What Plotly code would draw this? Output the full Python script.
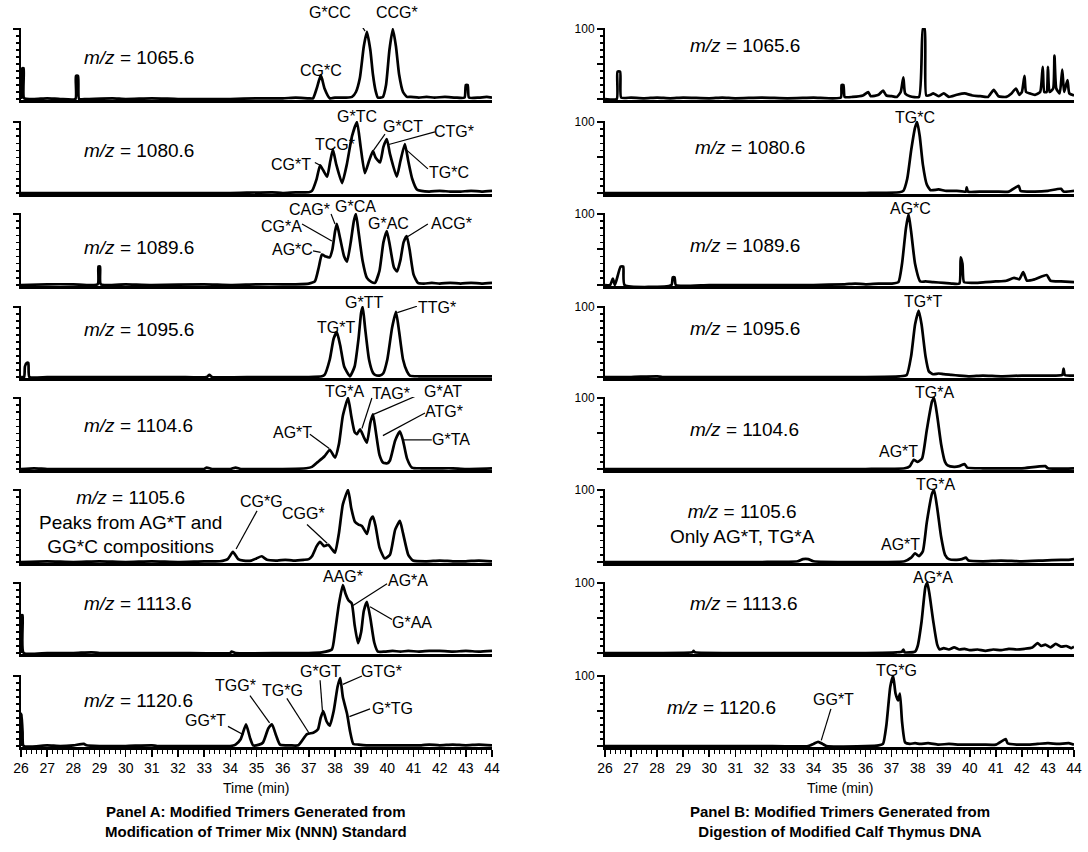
import plotly.graph_objects as go

W, H = 1088, 852

# ---------------- Panel A (trimer mix standard) : time (min) / relative intensity ----------------
a1065_time = [26.0, 26.01, 26.02, 26.03, 26.05, 26.1, 26.12, 26.5, 27.0, 27.5, 28.08, 28.1, 28.18, 28.22, 28.5, 29.5, 30.0, 31.0, 32.0, 33.0, 34.0, 35.0, 36.0, 36.5, 37.0,
              37.16, 37.3, 37.46, 37.6, 37.8, 38.0, 38.4, 38.65, 38.8, 38.95, 39.1, 39.22, 39.35, 39.45, 39.55, 39.64, 39.83, 39.95, 40.08, 40.21, 40.33, 40.45,
              40.6, 40.75, 40.9, 41.2, 41.5, 41.8, 42.2, 42.6, 42.95, 43.0, 43.07, 43.12, 43.5, 43.8, 44.0]
a1065_int = [0, 20, 20, 2, 44, 44, 1, 0, 1, 0, 0, 33, 33, 0, 0, 1, 0, 1, 0, 0, 0, 1, 1, 2, 1,
             1, 15, 34, 15, 1, 2, 2, 3, 10, 30, 75, 96, 70, 35, 12, 2, 3, 20, 70, 100, 75, 35,
             10, 3, 3, 2, 3, 2, 3, 2, 2, 20, 20, 2, 2, 3, 2]

a1080_time = [26.0, 28.0, 30.0, 32.0, 34.0, 35.6, 36.0, 36.5, 37.0, 37.12, 37.3, 37.43, 37.55, 37.7, 37.82, 37.92, 38.05, 38.27, 38.45, 38.65, 38.84, 38.98,
              39.14, 39.3, 39.45, 39.55, 39.72, 39.85, 39.98, 40.1, 40.36, 40.5, 40.67, 40.8, 40.95, 41.13, 41.3, 41.6, 42.0, 42.4, 42.8, 43.2, 43.6, 44.0]
a1080_int = [0, 0, 0, 0, 0, 1, 0, 1, 1, 3, 20, 39, 32, 23, 45, 61, 40, 14, 40, 80, 100, 65,
             28, 45, 59, 50, 43, 65, 76, 55, 23, 45, 69, 45, 20, 5, 3, 2, 3, 2, 2, 3, 2, 3]

a1089_time = [26.0, 27.0, 28.0, 28.93, 28.96, 29.02, 29.05, 30.0, 31.0, 33.0, 34.0, 35.0, 36.0, 36.5, 37.0, 37.23, 37.38, 37.5, 37.65, 37.8, 37.9, 38.0,
              38.07, 38.2, 38.35, 38.46, 38.6, 38.72, 38.8, 38.9, 39.05, 39.22, 39.4, 39.53, 39.7, 39.85, 39.98, 40.1, 40.25, 40.37, 40.5, 40.62,
              40.74, 40.85, 41.0, 41.17, 41.4, 41.7, 42.0, 42.4, 42.8, 43.2, 43.6, 44.0]
a1089_int = [0, 1, 1, 1, 26, 26, 1, 1, 0, 1, 0, 1, 1, 1, 2, 5, 25, 43, 40, 39, 50, 75,
             86, 65, 40, 33, 60, 90, 100, 75, 35, 10, 4, 3, 20, 60, 76, 55, 25, 19, 35, 60,
             69, 50, 15, 3, 2, 3, 2, 3, 2, 3, 2, 3]

a1095_time = [26.0, 26.12, 26.15, 26.22, 26.28, 26.32, 27.0, 28.0, 30.0, 32.0, 33.1, 33.2, 33.3, 35.0, 36.0, 37.0, 37.5, 37.6, 37.8, 37.95, 38.07, 38.2,
              38.35, 38.57, 38.75, 38.9, 39.0, 39.06, 39.15, 39.3, 39.45, 39.53, 39.7, 39.84, 40.0, 40.18, 40.33, 40.45, 40.6, 40.75, 40.86,
              41.2, 41.6, 42.0, 42.8, 43.5, 44.0]
a1095_int = [0, 0, 15, 20, 20, 0, 0, 0, 0, 0, 0, 3, 0, 0, 0, 0, 1, 3, 25, 55, 64, 45,
             15, 1, 15, 55, 92, 100, 70, 25, 6, 3, 2, 5, 25, 70, 93, 65, 25, 8, 2,
             1, 1, 1, 1, 1, 1]

a1104_time = [26.0, 26.5, 27.0, 28.0, 30.0, 32.0, 33.0, 33.1, 33.3, 34.0, 34.2, 34.4, 35.0, 36.0, 36.9, 37.12, 37.35, 37.6, 37.8, 38.0, 38.15, 38.3,
              38.5, 38.62, 38.75, 38.84, 38.96, 39.1, 39.22, 39.35, 39.45, 39.55, 39.7, 39.84, 40.0, 40.1, 40.3, 40.48, 40.6, 40.75, 40.94,
              41.3, 42.0, 42.5, 43.0, 44.0]
a1104_int = [0, 1, 0, 0, 0, 0, 0, 2, 0, 0, 2, 0, 0, 0, 1, 3, 10, 18, 27, 16, 35, 75,
             100, 75, 52, 49, 56, 45, 37, 65, 77, 55, 20, 9, 8, 12, 40, 53, 40, 15, 2,
             1, 1, 1, 0, 1]

a1105_time = [26.0, 27.0, 28.0, 29.0, 30.0, 31.0, 32.0, 33.0, 33.6, 33.9, 34.1, 34.3, 34.5, 34.8, 35.0, 35.2, 35.4, 35.8, 36.1, 36.4, 36.8, 37.0,
              37.12, 37.3, 37.43, 37.58, 37.74, 37.88, 38.0, 38.15, 38.3, 38.5, 38.62, 38.76, 38.9, 39.03, 39.22, 39.35, 39.45, 39.55, 39.7,
              39.9, 40.1, 40.3, 40.48, 40.6, 40.8, 40.98, 41.5, 42.0, 42.5, 43.0, 43.5, 44.0]
a1105_int = [0, 1, 0, 1, 0, 1, 0, 1, 1, 4, 14, 4, 2, 2, 5, 8, 3, 2, 3, 2, 3, 4,
             8, 22, 28, 22, 24, 18, 13, 40, 80, 100, 75, 56, 52, 50, 39, 58, 63, 50, 20,
             5, 10, 45, 57, 40, 10, 2, 1, 2, 1, 1, 2, 1]

a1113_time = [26.0, 26.02, 26.06, 26.1, 27.0, 28.0, 28.7, 29.0, 30.0, 32.0, 34.0, 34.05, 34.2, 36.0, 37.0, 37.5, 37.88, 38.0, 38.15, 38.3, 38.4, 38.52,
              38.64, 38.75, 38.88, 39.0, 39.1, 39.22, 39.35, 39.5, 39.64, 39.9, 40.2, 40.5, 40.8, 41.2, 41.6, 42.0, 42.5, 43.0, 43.5, 44.0]
a1113_int = [0, 54, 54, 0, 0, 0, 1, 0, 0, 0, 0, 2, 0, 0, 0, 1, 5, 30, 70, 97, 85, 75,
             71, 40, 14, 30, 60, 73, 50, 15, 2, 2, 3, 2, 3, 2, 3, 3, 2, 3, 2, 3]

a1120_time = [26.0, 26.02, 26.06, 26.1, 27.0, 27.5, 28.0, 28.4, 28.5, 29.0, 30.0, 31.0, 31.2, 32.0, 33.0, 34.0, 34.2, 34.4, 34.6, 34.75, 34.87, 35.1,
              35.25, 35.45, 35.59, 35.75, 35.9, 36.3, 36.6, 36.93, 37.17, 37.35, 37.45, 37.55, 37.68, 37.8, 37.95, 38.1, 38.2, 38.3, 38.46,
              38.58, 38.7, 38.9, 39.2, 39.6, 40.0, 40.6, 41.3, 41.6, 42.0, 42.5, 43.0, 43.5, 44.0]
a1120_int = [0, 46, 20, 0, 1, 0, 1, 3, 1, 0, 0, 1, 0, 0, 0, 0, 2, 10, 31, 12, 1, 2,
             5, 25, 31, 15, 2, 1, 1, 17, 19, 24, 40, 50, 35, 29, 50, 85, 97, 70, 46,
             20, 3, 2, 1, 1, 1, 1, 1, 2, 1, 2, 1, 2, 1]

# ---------------- Panel B (calf thymus DNA digest) ----------------
b1065_time = [26.0, 26.45, 26.48, 26.58, 26.62, 27.0, 27.5, 28.0, 28.5, 29.0, 30.0, 30.5, 31.0, 32.0, 33.0, 34.0, 35.05, 35.08, 35.15, 35.2, 35.5,
              35.9, 36.1, 36.2, 36.5, 36.67, 36.8, 37.0, 37.2, 37.35, 37.45, 37.52, 37.7, 38.05, 38.2, 38.27, 38.33, 38.5, 38.6, 38.8, 39.0,
              39.2, 39.5, 39.8, 40.1, 40.4, 40.7, 40.92, 41.1, 41.4, 41.6, 41.77, 41.9, 42.0, 42.1, 42.16, 42.3, 42.5, 42.7, 42.8, 42.86,
              42.95, 43.0, 43.06, 43.2, 43.25, 43.32, 43.45, 43.55, 43.62, 43.75, 43.82, 44.0]
b1065_int = [0, 0, 39, 39, 2, 2, 1, 2, 1, 2, 1, 2, 1, 2, 1, 2, 2, 20, 20, 3, 3,
             5, 10, 4, 6, 12, 5, 4, 3, 10, 31, 8, 4, 3, 100, 100, 5, 6, 8, 4, 8,
             3, 6, 8, 5, 4, 3, 13, 4, 3, 8, 15, 6, 10, 33, 10, 8, 6, 10, 46, 10,
             10, 46, 10, 15, 62, 15, 8, 42, 10, 27, 8, 5]

b1080_time = [26.0, 28.0, 30.0, 32.0, 34.0, 36.0, 37.3, 37.45, 37.6, 37.75, 37.9, 37.98, 38.08, 38.2, 38.35, 38.5, 38.8, 39.1, 39.5, 39.85, 39.88,
              39.93, 40.5, 41.0, 41.5, 41.88, 41.95, 42.5, 43.0, 43.5, 43.6, 44.0]
b1080_int = [0, 0, 0, 0, 0, 0, 1, 3, 20, 60, 92, 100, 80, 40, 12, 4, 5, 3, 3, 2, 8,
             2, 2, 2, 2, 10, 3, 2, 3, 6, 2, 3]

b1089_time = [26.0, 26.2, 26.3, 26.38, 26.6, 26.7, 26.75, 28.55, 28.6, 28.67, 28.72, 30.0, 32.0, 34.0, 35.2, 35.6, 36.0, 36.5, 37.0, 37.26, 37.4,
              37.55, 37.65, 37.75, 37.9, 38.1, 38.3, 38.6, 39.0, 39.3, 39.6, 39.65, 39.72, 39.78, 40.2, 40.6, 41.0, 41.4, 41.7, 41.9, 42.05,
              42.2, 42.5, 42.95, 43.1, 43.5, 44.0]
b1089_int = [0, 0, 9, 0, 26, 26, 0, 0, 11, 11, 0, 0, 0, 0, 1, 2, 1, 2, 2, 4, 30,
             80, 100, 75, 30, 5, 5, 4, 3, 2, 2, 39, 30, 4, 3, 4, 5, 6, 10, 8, 18,
             6, 8, 14, 6, 5, 4]

b1095_time = [26.0, 27.0, 28.0, 28.2, 30.0, 32.0, 34.0, 36.0, 37.3, 37.58, 37.75, 37.9, 38.04, 38.15, 38.3, 38.43, 38.6, 38.8, 39.0, 39.3, 39.6,
              40.0, 40.5, 41.2, 42.0, 42.8, 43.55, 43.6, 43.65, 44.0]
b1095_int = [0, 0, 1, 0, 0, 0, 0, 0, 1, 3, 30, 75, 95, 75, 30, 8, 4, 5, 4, 3, 2,
             1, 2, 1, 2, 2, 3, 12, 3, 2]

b1104_time = [26.0, 28.0, 30.0, 32.0, 34.0, 36.0, 37.5, 37.7, 37.85, 38.0, 38.17, 38.35, 38.55, 38.63, 38.75, 38.9, 39.05, 39.15, 39.4, 39.6,
              39.8, 39.9, 40.5, 41.0, 42.0, 42.9, 43.0, 44.0]
b1104_int = [0, 0, 0, 0, 0, 0, 1, 4, 13, 10, 15, 55, 95, 100, 75, 35, 10, 5, 3, 4,
             7, 2, 1, 1, 1, 4, 1, 1]

b1105_time = [26.0, 28.0, 30.0, 32.0, 33.4, 33.6, 33.8, 34.0, 36.0, 37.5, 37.75, 37.9, 38.05, 38.2, 38.35, 38.55, 38.63, 38.75, 38.9, 39.05,
              39.2, 39.5, 39.7, 39.85, 39.95, 40.5, 41.2, 42.0, 42.8, 43.5, 43.8, 44.0]
b1105_int = [0, 0, 0, 0, 1, 4, 4, 1, 0, 1, 6, 12, 8, 15, 55, 95, 100, 75, 35, 10,
             4, 3, 4, 6, 2, 1, 2, 1, 2, 3, 3, 4]

b1113_time = [26.0, 28.0, 29.35, 29.4, 29.45, 32.0, 34.0, 36.0, 37.2, 37.4, 37.45, 37.5, 37.9, 38.0, 38.15, 38.3, 38.37, 38.45, 38.6, 38.75,
              38.85, 39.0, 39.2, 39.4, 39.6, 39.8, 40.0, 40.3, 40.6, 40.9, 41.2, 41.5, 41.8, 42.1, 42.4, 42.6, 42.75, 42.9, 43.1, 43.3,
              43.5, 43.7, 43.9, 44.0]
b1113_int = [0, 0, 1, 3, 1, 0, 0, 0, 1, 2, 5, 1, 2, 10, 45, 95, 100, 85, 45, 12,
             5, 7, 5, 8, 5, 6, 4, 5, 3, 5, 4, 6, 5, 6, 8, 14, 10, 12, 8, 13,
             9, 10, 7, 9]

b1120_time = [26.0, 28.0, 30.0, 32.0, 33.8, 34.0, 34.18, 34.35, 34.5, 36.0, 36.5, 36.67, 36.8, 36.95, 37.06, 37.15, 37.25, 37.32, 37.4, 37.52,
              37.7, 37.9, 38.1, 38.4, 38.8, 39.2, 39.6, 40.0, 40.5, 41.0, 41.38, 41.45, 41.8, 42.2, 42.6, 43.0, 43.4, 43.8, 44.0]
b1120_int = [0, 0, 0, 0, 0, 3, 6, 3, 0, 0, 1, 3, 30, 85, 100, 75, 65, 75, 35, 5,
             3, 4, 3, 4, 2, 3, 2, 2, 2, 2, 10, 4, 2, 2, 3, 4, 3, 4, 2]

mz_values = ["1065.6", "1080.6", "1089.6", "1095.6", "1104.6", "1105.6", "1113.6", "1120.6"]
panel_a = [(a1065_time, a1065_int), (a1080_time, a1080_int), (a1089_time, a1089_int), (a1095_time, a1095_int),
           (a1104_time, a1104_int), (a1105_time, a1105_int), (a1113_time, a1113_int), (a1120_time, a1120_int)]
panel_b = [(b1065_time, b1065_int), (b1080_time, b1080_int), (b1089_time, b1089_int), (b1095_time, b1095_int),
           (b1104_time, b1104_int), (b1105_time, b1105_int), (b1113_time, b1113_int), (b1120_time, b1120_int)]

# peak labels: (column, row, text, time, intensity)
peak_labels = [
    (0, 0, "G*CC", 37.81, 123), (0, 0, "CCG*", 40.37, 123), (0, 0, "CG*C", 37.46, 41),
    (0, 1, "G*TC", 38.84, 108), (0, 1, "TCG*", 38.0, 69), (0, 1, "CG*T", 36.32, 40),
    (0, 1, "G*CT", 40.6, 94), (0, 1, "CTG*", 42.55, 86), (0, 1, "TG*C", 42.35, 29),
    (0, 2, "CAG*", 37.04, 107), (0, 2, "G*CA", 38.8, 110), (0, 2, "CG*A", 35.97, 83),
    (0, 2, "AG*C", 36.36, 50), (0, 2, "G*AC", 40.06, 86), (0, 2, "ACG*", 42.47, 86),
    (0, 3, "TG*T", 38.04, 71), (0, 3, "G*TT", 39.1, 107), (0, 3, "TTG*", 41.9, 99),
    (0, 4, "TG*A", 38.38, 109), (0, 4, "TAG*", 40.14, 106), (0, 4, "G*AT", 42.13, 109),
    (0, 4, "ATG*", 42.16, 81), (0, 4, "AG*T", 36.36, 51), (0, 4, "G*TA", 42.43, 41),
    (0, 5, "CG*G", 35.21, 84), (0, 5, "CGG*", 36.81, 67),
    (0, 6, "AAG*", 38.3, 109), (0, 6, "AG*A", 40.79, 104), (0, 6, "G*AA", 40.94, 43),
    (0, 7, "TGG*", 34.18, 86), (0, 7, "TG*G", 36.01, 79), (0, 7, "GG*T", 33.07, 36),
    (0, 7, "G*GT", 37.43, 107), (0, 7, "GTG*", 39.76, 107), (0, 7, "G*TG", 40.18, 54),
    (1, 1, "TG*C", 37.88, 107), (1, 2, "AG*C", 37.72, 108), (1, 3, "TG*T", 38.2, 108),
    (1, 4, "TG*A", 38.63, 108), (1, 4, "AG*T", 37.28, 24),
    (1, 5, "TG*A", 38.7, 108), (1, 5, "AG*T", 37.35, 24),
    (1, 6, "AG*A", 38.57, 108), (1, 7, "TG*G", 37.2, 108), (1, 7, "GG*T", 34.77, 66),
]

# leader lines: (column, row, t0, y0, t1, y1)
leaders = [
    (0, 0, 38.69, 123, 39.15, 97),
    (0, 1, 37.23, 43, 37.43, 39), (0, 1, 39.91, 83, 39.47, 60), (0, 1, 41.82, 86, 40.02, 68), (0, 1, 41.55, 34, 40.75, 60),
    (0, 2, 37.85, 100, 38.0, 86), (0, 2, 36.74, 86, 37.88, 62), (0, 2, 37.16, 48, 37.45, 46), (0, 2, 41.55, 86, 40.77, 68),
    (0, 3, 41.13, 101, 40.38, 92),
    (0, 4, 39.41, 100, 39.03, 57), (0, 4, 41.36, 107, 39.47, 77), (0, 4, 41.44, 79, 39.83, 47), (0, 4, 37.04, 49, 37.78, 29), (0, 4, 41.7, 41, 40.6, 41),
    (0, 5, 35.02, 71, 34.22, 18), (0, 5, 36.93, 52, 37.7, 26),
    (0, 6, 39.99, 99, 38.69, 68), (0, 6, 40.18, 48, 39.34, 66),
    (0, 7, 34.75, 72, 35.5, 33), (0, 7, 36.16, 68, 37.0, 19), (0, 7, 33.91, 28, 34.5, 16),
    (0, 7, 37.43, 94, 37.52, 50), (0, 7, 39.03, 100, 38.3, 88), (0, 7, 39.34, 53, 38.55, 42),
    (1, 7, 34.67, 53, 34.3, 8),
]

# ---------------- geometry (pixels) ----------------
row_top_px = [29, 122, 214, 307, 398, 490, 583, 676]
row_base_px = [99, 193, 285, 377, 469, 562, 653, 746]
col_px = [(21, 492), (605, 1074)]
XR = [26, 44]
YR = [-1.5, 101.5]

def px_to_x(px):
    return px / W

def py_to_y(py):
    return 1 - py / H

def data_to_paper(col, row, t, y):
    x0, x1 = col_px[col]
    px = x0 + (t - XR[0]) / (XR[1] - XR[0]) * (x1 - x0)
    scale = (row_base_px[row] - row_top_px[row]) / 100.0
    py = row_base_px[row] - y * scale
    return px_to_x(px), py_to_y(py)

FONT = "Liberation Sans, Arial, Helvetica, sans-serif"
NARROW = "Liberation Sans Narrow, Arial Narrow, Liberation Sans, sans-serif"

fig = go.Figure()
layout = dict(width=W, height=H, margin=dict(l=0, r=0, t=0, b=0, autoexpand=False), paper_bgcolor="white",
              plot_bgcolor="white", showlegend=False, template="none")

def axis_index(col, row):
    return col * 8 + row + 1

for col, panels in enumerate([panel_a, panel_b]):
    for row, (tt, yy) in enumerate(panels):
        i = axis_index(col, row)
        xs = "x" if i == 1 else f"x{i}"
        ys = "y" if i == 1 else f"y{i}"
        fig.add_trace(go.Scatter(x=tt, y=yy, mode="lines", xaxis=xs, yaxis=ys,
                                 line=dict(color="black", width=2.7, shape="spline", smoothing=0.5),
                                 hoverinfo="skip"))
        scale = (row_base_px[row] - row_top_px[row]) / 100.0
        top = row_top_px[row] - (YR[1] - 100) * scale
        base = row_base_px[row] - YR[0] * scale
        x0, x1 = col_px[col]
        bottom = row == 7
        xa = dict(domain=[px_to_x(x0), px_to_x(x1)], range=XR, anchor=ys, automargin=False,
                  showline=True, linecolor="black", linewidth=2.5, showgrid=False, zeroline=False,
                  ticks="outside" if bottom else "", showticklabels=bottom,
                  tickvals=list(range(26, 45)), ticklen=7, tickwidth=1.5, tickcolor="black",
                  tickfont=dict(family=NARROW, size=14, color="black"), fixedrange=True)
        if bottom:
            xa["minor"] = dict(dtick=0.2, tick0=26, ticks="outside", ticklen=4, tickwidth=1, tickcolor="black")
        ya = dict(domain=[py_to_y(base), py_to_y(top)], range=YR, anchor=xs, automargin=False,
                  showline=True, linecolor="black", linewidth=2, showgrid=False, zeroline=False,
                  ticks="outside", tickvals=[0, 50, 100], ticklen=6, tickwidth=2, tickcolor="black",
                  minor=dict(dtick=10, tick0=0, ticks="outside", ticklen=3, tickwidth=1.5, tickcolor="black"),
                  showticklabels=(col == 1), ticktext=["", "", "100"],
                  tickfont=dict(family=FONT, size=12, color="black"), fixedrange=True)
        layout["xaxis" if i == 1 else f"xaxis{i}"] = xa
        layout["yaxis" if i == 1 else f"yaxis{i}"] = ya

annotations = []
shapes = []

def ref(col, row):
    i = axis_index(col, row)
    return ("x" if i == 1 else f"x{i}"), ("y" if i == 1 else f"y{i}")

for col, row, text, t, y in peak_labels:
    px, py = data_to_paper(col, row, t, y)
    annotations.append(dict(x=px, y=py, xref="paper", yref="paper", text=text, showarrow=False,
                            font=dict(family=FONT, size=16, color="black"), xanchor="center", yanchor="middle"))

for col, row, t0, y0, t1, y1 in leaders:
    xr, yr = ref(col, row)
    shapes.append(dict(type="line", x0=t0, y0=y0, x1=t1, y1=y1, xref=xr, yref=yr,
                       line=dict(color="black", width=1.2)))

# m/z labels (pixel positions)
mz_pos_a = [(82, 58), (82, 150), (82, 247), (82, 330), (82, 425), None, (82, 603), (82, 700)]
mz_pos_b = [(688, 45), (693, 147), (688, 245), (688, 328), (688, 430), None, (688, 603), (665, 707)]
for pos_list in (mz_pos_a, mz_pos_b):
    for row, p in enumerate(pos_list):
        if p is None:
            continue
        annotations.append(dict(x=px_to_x(p[0]), y=py_to_y(p[1]), xref="paper", yref="paper",
                                text=f"<i>m/z</i> = {mz_values[row]}", showarrow=False,
                                xanchor="left", yanchor="middle",
                                font=dict(family=FONT, size=19, color="black")))

annotations.append(dict(x=px_to_x(130), y=py_to_y(522), xref="paper", yref="paper",
                        text=f"<i>m/z</i> = {mz_values[5]}<br>Peaks from AG*T and<br>GG*C compositions",
                        showarrow=False, xanchor="center", yanchor="middle", align="center",
                        font=dict(family=FONT, size=19, color="black")))
annotations.append(dict(x=px_to_x(742), y=py_to_y(524), xref="paper", yref="paper",
                        text=f"<i>m/z</i> = {mz_values[5]}<br>Only AG*T, TG*A",
                        showarrow=False, xanchor="center", yanchor="middle", align="center",
                        font=dict(family=FONT, size=19, color="black")))

# bottom texts
for cx, title in [(256, "Panel A: Modified Trimers Generated from<br>Modification of Trimer Mix (NNN) Standard"),
                  (840, "Panel B: Modified Trimers Generated from<br>Digestion of Modified Calf Thymus DNA")]:
    annotations.append(dict(x=px_to_x(cx), y=py_to_y(788), xref="paper", yref="paper", text="Time (min)",
                            showarrow=False, xanchor="center", yanchor="middle",
                            font=dict(family=NARROW, size=14, color="black")))
    annotations.append(dict(x=px_to_x(cx), y=py_to_y(821), xref="paper", yref="paper", text=f"<b>{title}</b>",
                            showarrow=False, xanchor="center", yanchor="middle", align="center",
                            font=dict(family=NARROW, size=15, color="black")))

layout["annotations"] = annotations
layout["shapes"] = shapes
fig.update_layout(**layout)
fig.write_html("out.html", config={"displayModeBar": False, "staticPlot": True},
               post_script="document.body.style.margin='0';document.body.style.padding='0';"
                           "document.body.style.overflow='hidden';")
